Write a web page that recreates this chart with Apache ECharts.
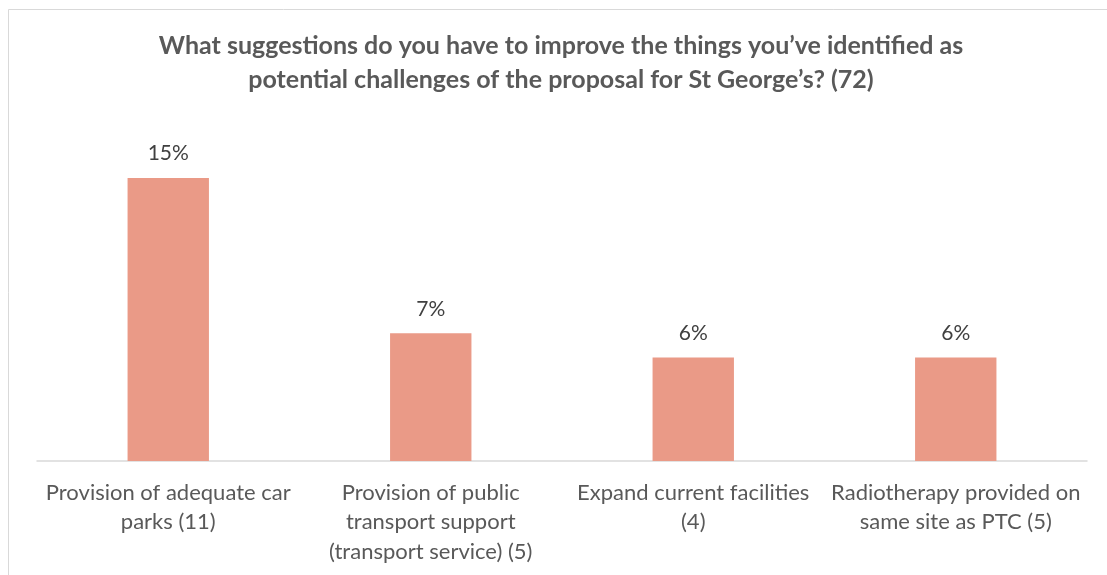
<!DOCTYPE html>
<html>
<head>
<meta charset="utf-8">
<style>
  html, body { margin: 0; padding: 0; background: #ffffff; }
  #chart { width: 1107px; height: 575px; }
</style>
<script src="https://cdn.jsdelivr.net/npm/echarts@6/dist/echarts.min.js"></script>
</head>
<body>
<div id="chart"></div>
<script>
// Responses grouped by suggestion (n = 72)
const titleLines = [
  'What suggestions do you have to improve the things you\u2019ve identified as',
  'potential challenges of the proposal for St George\u2019s? (72)'
];
const categories = [
  'Provision of adequate car\nparks (11)',
  'Provision of public\ntransport support\n(transport service) (5)',
  'Expand current facilities\n(4)',
  'Radiotherapy provided on\nsame site as PTC (5)'
];
// Share of respondents, percent
const shares = [15.3, 6.9, 5.6, 5.6];

const FONT = 'Lato, "Open Sans", sans-serif';
const chart = echarts.init(document.getElementById('chart'), null, { renderer: 'canvas' });

chart.setOption({
  backgroundColor: '#ffffff',
  animation: false,
  graphic: [{
    // outer frame
    type: 'rect',
    shape: { x: 8.5, y: 9.5, width: 1110, height: 600 },
    style: { fill: 'none', stroke: '#d9d9d9', lineWidth: 1 },
    silent: true
  }, {
    // two-line heading, centred on the framed area
    type: 'text',
    x: 561,
    y: 29,
    silent: true,
    style: {
      text: titleLines.join('\n'),
      align: 'center',
      verticalAlign: 'top',
      font: 'bold 25px ' + FONT,
      fill: '#595959',
      lineHeight: 34
    }
  }],
  grid: { left: 37, right: 20, top: 165, bottom: 114 },
  xAxis: {
    type: 'category',
    data: categories,
    axisTick: { show: false },
    axisLine: { lineStyle: { color: '#d9d9d9', width: 1.5 } },
    axisLabel: {
      interval: 0,
      margin: 17,
      fontFamily: FONT,
      fontSize: 22,
      color: '#595959',
      lineHeight: 29.5
    }
  },
  yAxis: {
    type: 'value',
    min: 0,
    max: 16,
    show: false,
    splitLine: { show: false }
  },
  series: [{
    type: 'bar',
    data: shares,
    barWidth: '31%',
    itemStyle: { color: '#EA9A87' },
    label: {
      show: true,
      position: 'top',
      distance: 14,
      fontFamily: FONT,
      fontSize: 21,
      color: '#404040',
      formatter: p => Math.round(p.value) + '%'
    }
  }]
});
</script>
</body>
</html>
